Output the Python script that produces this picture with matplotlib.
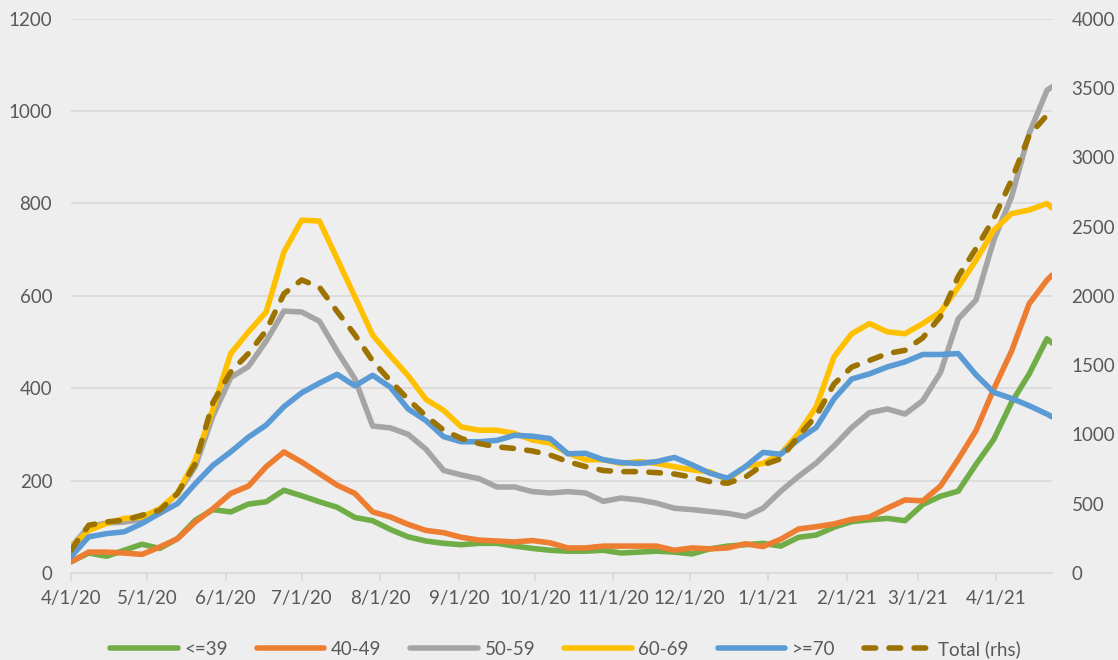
import matplotlib
matplotlib.use("Agg")
import matplotlib.pyplot as plt
import matplotlib.dates as mdates
import pandas as pd

# Weekly sample dates (every 7 days from 4/1/20) plus the final day
dates = list(pd.date_range("2020-04-01", periods=56, freq="7D")) + [pd.Timestamp("2021-04-23")]

age_39 = [24, 43, 36, 49, 62, 53, 74, 114, 137, 132, 149, 154, 179, 167, 154, 142, 120, 113, 94, 78,
          69, 64, 61, 64, 64, 58, 53, 49, 47, 47, 49, 43, 45, 47, 45, 41, 52, 58, 61, 64,
          58, 77, 82, 99, 111, 115, 118, 113, 148, 166, 177, 235, 289, 369, 431, 507, 498]
age_40_49 = [24, 45, 45, 43, 40, 56, 74, 110, 139, 172, 188, 230, 262, 240, 215, 190, 172, 132, 121, 105,
             92, 87, 77, 71, 69, 67, 70, 65, 54, 54, 58, 58, 58, 58, 49, 54, 52, 54, 63, 57,
             73, 95, 100, 106, 116, 121, 140, 158, 156, 188, 246, 308, 398, 480, 583, 634, 645]
age_50_59 = [56, 100, 108, 110, 116, 136, 172, 230, 340, 423, 447, 502, 567, 565, 545, 480, 420, 318, 314, 300,
             268, 222, 212, 204, 186, 186, 176, 173, 176, 173, 155, 162, 158, 151, 140, 137, 133, 129, 122, 140,
             177, 209, 238, 275, 315, 347, 355, 344, 373, 434, 550, 591, 720, 814, 952, 1045, 1053]
age_60_69 = [56, 92, 107, 118, 121, 139, 172, 244, 355, 475, 522, 565, 695, 764, 762, 680, 598, 515, 470, 427,
             376, 352, 316, 309, 309, 302, 288, 281, 259, 245, 245, 237, 241, 237, 230, 223, 219, 201, 230, 237,
             258, 302, 360, 468, 518, 540, 522, 518, 540, 565, 619, 677, 742, 778, 786, 800, 790]
age_70 = [35, 78, 85, 89, 107, 129, 150, 193, 233, 262, 294, 320, 360, 390, 411, 430, 405, 428, 402, 355,
          330, 295, 284, 284, 287, 298, 296, 291, 258, 259, 245, 239, 237, 241, 250, 234, 216, 205, 230, 261,
          257, 289, 315, 377, 420, 431, 446, 457, 473, 473, 475, 429, 391, 378, 362, 344, 338]
total_rhs = [164, 344, 368, 380, 416, 452, 573, 789, 1230, 1451, 1584, 1750, 2015, 2115, 2062, 1887, 1718, 1530, 1386, 1253,
             1133, 1030, 970, 934, 910, 898, 880, 851, 803, 767, 739, 731, 731, 724, 714, 691, 659, 647, 691, 780,
             824, 989, 1134, 1364, 1486, 1534, 1583, 1607, 1697, 1850, 2140, 2341, 2558, 2835, 3160, 3304, 3329]

series = [("<=39", age_39, "#70AD47"), ("40-49", age_40_49, "#ED7D31"), ("50-59", age_50_59, "#A5A5A5"),
          ("60-69", age_60_69, "#FFC000"), (">=70", age_70, "#5B9BD5")]
total_label = "Total (rhs)"
total_color = "#9C7300"

left_ticks = [0, 200, 400, 600, 800, 1000, 1200]
right_ticks = [0, 500, 1000, 1500, 2000, 2500, 3000, 3500, 4000]
month_ticks = list(pd.date_range("2020-04-01", "2021-04-01", freq="MS"))

bg = "#EEEEEE"
txt = "#595959"
plt.rcParams["font.family"] = ["Lato", "DejaVu Sans"]

fig = plt.figure(figsize=(11.18, 6.60), dpi=100, facecolor=bg)
ax = fig.add_axes([0.0635, 0.132, 0.8775, 0.8395])
ax.set_facecolor(bg)
lw = 4.0
handles = []
for name, vals, col in series:
    h, = ax.plot(dates, vals, color=col, lw=lw, solid_capstyle="round", solid_joinstyle="round", label=name)
    handles.append(h)

ax.set_ylim(0, 1200)
ax.set_yticks(left_ticks)
ax.set_xlim(pd.Timestamp("2020-04-01"), pd.Timestamp("2021-04-23"))
ax.set_xticks(month_ticks)
ax.xaxis.set_major_formatter(mdates.DateFormatter("%-m/%-d/%y"))
ax.grid(axis="y", color="#D9D9D9", lw=1.2)
ax.set_axisbelow(True)
for s in ["left", "right", "top"]:
    ax.spines[s].set_visible(False)
ax.spines["bottom"].set_color("#D9D9D9")
ax.spines["bottom"].set_linewidth(1.2)
ax.tick_params(axis="x", colors="#D9D9D9", labelcolor=txt, length=6, width=1.2, labelsize=13.5, pad=6)
ax.tick_params(axis="y", length=0, labelcolor=txt, labelsize=13.5, pad=13.5)

ax2 = ax.twinx()
ht, = ax2.plot(dates, total_rhs, color=total_color, lw=lw, linestyle=(0, (2.1, 2.4)),
               dash_capstyle="round", label=total_label)
ax2.set_ylim(0, 4000)
ax2.set_yticks(right_ticks)
for s in ["left", "right", "top", "bottom"]:
    ax2.spines[s].set_visible(False)
ax2.tick_params(axis="y", length=0, labelcolor=txt, labelsize=13.5, pad=14)
handles.append(ht)

leg = fig.legend(handles=handles, loc="center", bbox_to_anchor=(0.506, 0.017), ncol=6, frameon=False,
                 fontsize=13.5, handlelength=3.6, columnspacing=1.55, handletextpad=0.35, labelcolor=txt)

fig.savefig("out.png", dpi=100, facecolor=bg)
